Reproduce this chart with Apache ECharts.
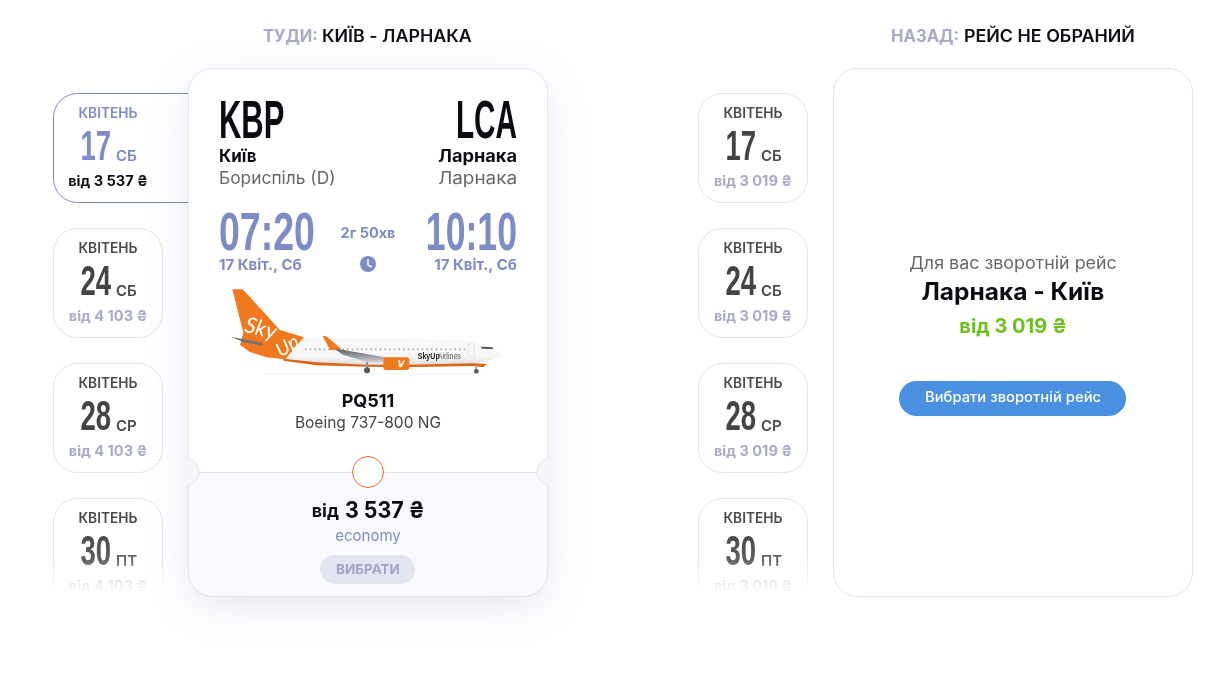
<!DOCTYPE html>
<html lang="uk">

<head>
  <meta charset="UTF-8">
  <title>Київ - Ларнака</title>
  <style>
    html, body { margin: 0; padding: 0; background: #fff; }
  </style>
</head>

<body>
  <div id="main" style="width: 1211px;height:679px;"></div>
  <script src="https://cdn.jsdelivr.net/npm/echarts@6/dist/echarts.min.js"></script>
  <script>
    const monthNames = ['КВІТЕНЬ', 'КВІТЕНЬ', 'КВІТЕНЬ', 'КВІТЕНЬ'];
    const dayNumbers = ['17', '24', '28', '30'];
    const weekDays = ['СБ', 'СБ', 'СР', 'ПТ'];
    const thereFares = ['від 3 537 ₴', 'від 4 103 ₴', 'від 4 103 ₴', 'від 4 103 ₴'];
    const backFares = ['від 3 019 ₴', 'від 3 019 ₴', 'від 3 019 ₴', 'від 3 019 ₴'];

    const BODY = 'Inter, "Noto Sans", sans-serif';
    const NARROW = '"Liberation Sans Narrow", "Liberation Sans", sans-serif';
    const BLUE = '#7d8bc6';
    const LINE = '#e3e4f2';
    const GREY = '#a7abc6';
    const INK = '#0b0d12';

    // text helper, everything on this page is a graphic element
    function txt(x, y, text, size, weight, fill, align, family, sx) {
      return {
        type: 'text', x: x, y: family === NARROW ? y : y + 1, scaleX: sx || 1, silent: true,
        style: {
          text: text, fontSize: size, fontWeight: weight, fill: fill,
          fontFamily: family || BODY, align: align || 'left', verticalAlign: 'middle'
        }
      };
    }

    function dateCard(left, i, fares, selected) {
      const top = 93 + i * 135;
      const mid = left + 55;
      const numCol = selected ? BLUE : '#444444';
      return [
        {
          type: 'rect', silent: true,
          shape: { x: left + 0.5, y: top + 0.5, width: selected ? 180 : 109, height: 109, r: 24 },
          style: { fill: '#fff', stroke: selected ? BLUE : LINE, lineWidth: 1 }
        },
        txt(mid, top + 20, monthNames[i], 14, 600, selected ? BLUE : '#4a4a4a', 'center', BODY, 0.98),
        txt(mid + 3, top + 55, dayNumbers[i], 43, 700, numCol, 'right', NARROW, 0.64),
        txt(mid + 8, top + 62, weekDays[i], 15, 600, selected ? BLUE : '#4a4a4a'),
        txt(mid, top + 88, fares[i], 14, 700, selected ? INK : GREY, 'center', BODY, 1.04)
      ];
    }

    function fade(x, w) {
      return {
        type: 'rect', silent: true,
        shape: { x: x, y: 530, width: w, height: 149 },
        style: {
          fill: new echarts.graphic.LinearGradient(0, 0, 0, 1, [
            { offset: 0, color: 'rgba(255,255,255,0)' },
            { offset: 0.2, color: 'rgba(255,255,255,0.15)' },
            { offset: 0.3, color: 'rgba(255,255,255,0.5)' },
            { offset: 0.38, color: 'rgba(255,255,255,0.87)' },
            { offset: 0.43, color: 'rgba(255,255,255,1)' },
            { offset: 1, color: 'rgba(255,255,255,1)' }
          ])
        }
      };
    }

    function poly(points, fill) {
      return { type: 'polygon', silent: true, shape: { points: points }, style: { fill: fill } };
    }

    function vGrad(stops) {
      return new echarts.graphic.LinearGradient(0, 0, 0, 1, stops.map((s) => ({ offset: s[0], color: s[1] })));
    }

    // plane is drawn in the 3x zoom coordinates and scaled down by the group
    function plane() {
      const orange = '#f0791d';
      return {
        type: 'group', x: 200, y: 280, scaleX: 1 / 3, scaleY: 1 / 3, silent: true,
        children: [
          { type: 'rect', shape: { x: 190, y: 279, width: 660, height: 3 }, style: { fill: '#f3f3f5' } },
          poly([[320, 175], [600, 176], [800, 182], [860, 195], [895, 215], [906, 228], [870, 241], [820, 253], [600, 260], [500, 258], [350, 252], [250, 240], [170, 225], [120, 195], [130, 158]],
            vGrad([[0, '#ececee'], [0.3, '#fafafa'], [0.7, '#f6f6f7'], [1, '#d9d9dc']])),
          poly([[250, 236], [350, 247], [500, 254], [600, 255], [820, 250], [860, 252], [850, 262], [820, 258], [600, 262], [500, 260], [350, 256], [250, 242]], '#dd6410'),
          poly([[97, 28], [128, 28], [240, 150], [312, 172], [255, 238], [200, 232], [150, 216], [120, 195], [130, 158]], orange),
          poly([[92, 170], [185, 188], [188, 197], [130, 186]], '#6f7277'),
          { type: 'line', shape: { x1: 315, y1: 208, x2: 800, y2: 208 }, style: { stroke: '#a9acb2', lineWidth: 5, lineDash: [5, 9] } },
          poly([[400, 205], [555, 232], [550, 246], [500, 246], [430, 225]], vGrad([[0, '#55585c'], [0.5, '#8f9297'], [1, '#d0d1d4']])),
          poly([[368, 168], [378, 168], [425, 208], [390, 210]], orange),
          { type: 'rect', shape: { x: 498, y: 245, width: 6, height: 22 }, style: { fill: '#9a9a9a' } },
          { type: 'rect', shape: { x: 826, y: 255, width: 5, height: 14 }, style: { fill: '#9a9a9a' } },
          { type: 'circle', shape: { cx: 501, cy: 271, r: 9 }, style: { fill: '#55585c' } },
          { type: 'circle', shape: { cx: 829, cy: 274, r: 7 }, style: { fill: '#55585c' } },
          { type: 'rect', shape: { x: 550, y: 232, width: 78, height: 38, r: 9 }, style: { fill: orange } },
          poly([[595, 240], [600, 240], [602, 254], [612, 240], [616, 240], [604, 262], [597, 262]], '#fff'),
          poly([[843, 200], [878, 202], [880, 207], [846, 206]], '#4d5157'),
          { type: 'rect', shape: { x: 803, y: 192, width: 20, height: 38, r: 3 }, style: { fill: 'none', stroke: '#dcdcdf', lineWidth: 2 } },
          txt(653, 231, 'SkyUp', 25, 700, '#222', 'left', NARROW, 0.85),
          txt(713, 231, 'Airlines', 25, 400, '#555', 'left', NARROW, 0.85),
          {
            type: 'text', x: 182, y: 146, rotation: -0.25, silent: true,
            style: { text: 'Sky', fontSize: 66, fontStyle: 'italic', fontFamily: 'Lato', fontWeight: 400, fill: '#fff', align: 'center', verticalAlign: 'middle' }
          },
          {
            type: 'text', x: 262, y: 198, rotation: 0.55, silent: true,
            style: { text: 'Up', fontSize: 58, fontStyle: 'italic', fontFamily: 'Lato', fontWeight: 400, fill: '#fff', align: 'center', verticalAlign: 'middle' }
          }
        ]
      };
    }

    const els = [];

    // column headers
    els.push(txt(263, 36, 'ТУДИ:', 17, 700, GREY, 'left', BODY, 0.97));
    els.push(txt(322, 36, 'КИЇВ - ЛАРНАКА', 17, 600, INK, 'left', BODY, 1.05));
    els.push(txt(891, 36, 'НАЗАД:', 17, 700, GREY, 'left', BODY, 0.98));
    els.push(txt(964, 36, 'РЕЙС НЕ ОБРАНИЙ', 17, 600, INK, 'left', BODY, 1.05));

    // date strips
    dayNumbers.forEach((d, i) => els.push(...dateCard(53, i, thereFares, i === 0)));
    dayNumbers.forEach((d, i) => els.push(...dateCard(698, i, backFares, false)));
    els.push(fade(40, 148));
    els.push(fade(690, 142));

    // flight card
    els.push({
      type: 'rect', silent: true,
      shape: { x: 188.5, y: 68.5, width: 359, height: 528, r: 24 },
      style: { fill: '#fff', stroke: LINE, lineWidth: 1, shadowBlur: 44, shadowOffsetY: 10, shadowColor: 'rgba(95,105,165,0.16)' }
    });
    els.push({
      type: 'rect', silent: true,
      shape: { x: 188.5, y: 472.5, width: 359, height: 124, r: [0, 0, 24, 24] },
      style: { fill: '#f8f9fd', stroke: LINE, lineWidth: 1 }
    });

    const notch = 1.355;
    [[185, -notch, notch], [551, Math.PI - notch, Math.PI + notch]].forEach((n) => {
      els.push({ type: 'sector', silent: true, shape: { cx: n[0], cy: 472, r: 14, r0: 0, startAngle: n[1], endAngle: n[2] }, style: { fill: '#f6f6fa' } });
      els.push({ type: 'arc', silent: true, shape: { cx: n[0], cy: 472, r: 14, startAngle: n[1], endAngle: n[2] }, style: { stroke: LINE, fill: 'none', lineWidth: 1 } });
    });
    els.push({ type: 'circle', silent: true, shape: { cx: 368, cy: 472, r: 15.5 }, style: { fill: '#fff', stroke: '#f2662a', lineWidth: 1 } });

    els.push(txt(219, 123, 'KBP', 54, 700, INK, 'left', NARROW, 0.573));
    els.push(txt(517, 123, 'LCA', 54, 700, INK, 'right', NARROW, 0.55));
    els.push(txt(219, 156, 'Київ', 17, 700, INK));
    els.push(txt(517, 156, 'Ларнака', 17, 700, INK, 'right', BODY, 1.07));
    els.push(txt(219, 178, 'Бориспіль (D)', 17, 400, '#666', 'left', BODY, 1.02));
    els.push(txt(517, 178, 'Ларнака', 17, 400, '#666', 'right', BODY, 1.11));

    els.push(txt(219, 235, '07:20', 54, 700, BLUE, 'left', NARROW, 0.694));
    els.push(txt(517, 235, '10:10', 54, 700, BLUE, 'right', NARROW, 0.66));
    els.push(txt(219, 264, '17 Квіт., Сб', 15, 700, BLUE));
    els.push(txt(517, 264, '17 Квіт., Сб', 15, 700, BLUE, 'right'));
    els.push(txt(368, 233, '2г 50хв', 14.5, 700, BLUE, 'center'));

    // clock icon
    els.push({ type: 'circle', silent: true, shape: { cx: 368, cy: 264, r: 8 }, style: { fill: BLUE } });
    els.push({ type: 'polyline', silent: true, shape: { points: [[368, 259], [368, 265], [372, 267]] }, style: { stroke: '#fff', fill: 'none', lineWidth: 1.4 } });

    els.push(plane());

    els.push(txt(368, 401, 'PQ511', 18, 700, INK, 'center'));
    els.push(txt(368, 422, 'Boeing 737-800 NG', 16, 400, '#444', 'center', BODY, 0.97));

    els.push(txt(339, 511, 'від', 18, 700, INK, 'right'));
    els.push(txt(345, 510, '3 537 ₴', 23, 700, INK, 'left', BODY, 0.93));
    els.push(txt(368, 535, 'economy', 15, 400, BLUE, 'center'));
    els.push({ type: 'rect', silent: true, shape: { x: 320, y: 555, width: 95, height: 29, r: 14.5 }, style: { fill: '#e3e5f3' } });
    els.push(txt(368, 569, 'ВИБРАТИ', 13.5, 700, '#a0a5c8', 'center'));

    // return side card
    els.push({
      type: 'rect', silent: true,
      shape: { x: 833.5, y: 68.5, width: 359, height: 528, r: 24 },
      style: { fill: '#fff', stroke: LINE, lineWidth: 1 }
    });
    els.push(txt(1013, 263, 'Для вас зворотній рейс', 17, 400, '#666', 'center', BODY, 1.05));
    els.push(txt(1013, 292, 'Ларнака - Київ', 24, 700, INK, 'center', BODY, 1.02));
    els.push(txt(1013, 326, 'від 3 019 ₴', 20, 700, '#6cc11f', 'center'));
    els.push({ type: 'rect', silent: true, shape: { x: 899, y: 381, width: 227, height: 35, r: 17.5 }, style: { fill: '#4a90e2' } });
    els.push(txt(1013, 397, 'Вибрати зворотній рейс', 14.5, 500, '#fff', 'center', BODY, 1.02));

    const myChart = echarts.init(document.getElementById('main'));
    myChart.setOption({
      backgroundColor: '#fff',
      animation: false,
      graphic: { elements: els }
    });
  </script>
</body>

</html>
